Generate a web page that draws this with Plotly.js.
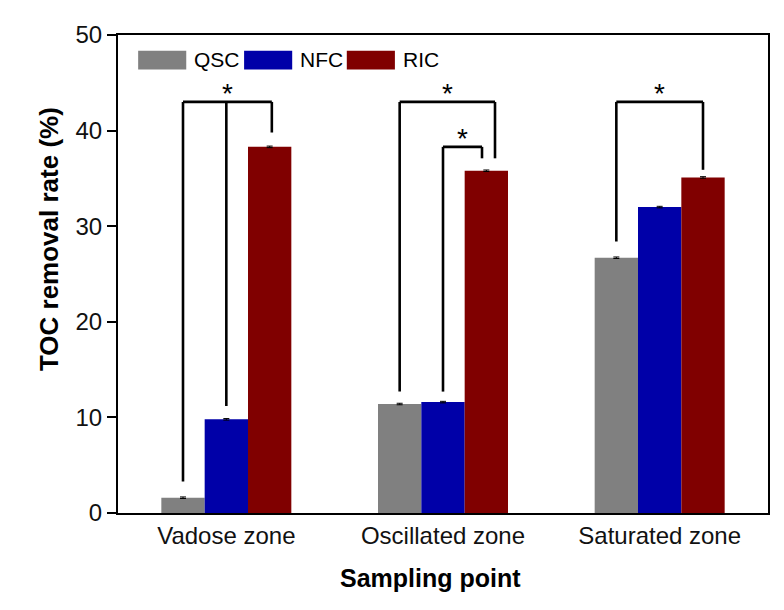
<!DOCTYPE html>
<html>
<head>
<meta charset="utf-8">
<script src="https://cdn.plot.ly/plotly-3.0.1.min.js"></script>
<style>html,body{margin:0;padding:0;background:#fff;}#chart{width:784px;height:610px;}</style>
</head>
<body>
<div id="chart"></div>
<script>
// ---- data ----
const categories = ["Vadose zone", "Oscillated zone", "Saturated zone"];
const seriesNames = ["QSC", "NFC", "RIC"];
const qsc = [1.6, 11.4, 26.7];
const nfc = [9.8, 11.6, 32.0];
const ric = [38.3, 35.8, 35.1];
const qscErr = [0.08, 0.08, 0.08];
const nfcErr = [0.08, 0.08, 0.08];
const ricErr = [0.08, 0.08, 0.08];
const colors = ["#808080", "#0000A8", "#800000"];
const yTicks = [0, 10, 20, 30, 40, 50];

// significance brackets: group index, legs (series indices), leg bottoms, top height
const brackets = [
  {group: 0, legs: [0, 1, 2], bottoms: [3.3, 11.2, 39.8], top: 43.0, nudge: [0, 0, 0.01]},
  {group: 1, legs: [0, 2], bottoms: [12.7, 37.1], top: 43.0, nudge: [0, 0.04]},
  {group: 1, legs: [1, 2], bottoms: [12.7, 37.1], top: 38.3, nudge: [0, -0.02]},
  {group: 2, legs: [0, 2], bottoms: [28.4, 35.9], top: 43.0, nudge: [0, 0]}
];

const values = [qsc, nfc, ric];
const errs = [qscErr, nfcErr, ricErr];
const barWidth = 0.2;
const FONT = "Arial, Liberation Sans, sans-serif";

const traces = seriesNames.map((name, i) => ({
  type: "bar",
  name: name,
  x: categories,
  y: values[i],
  marker: {color: colors[i], line: {width: 0}},
  error_y: {type: "data", array: errs[i], visible: true, color: "#000", thickness: 1, width: 3},
  showlegend: false,
  hoverinfo: "skip"
}));

const shapes = [];
const annotations = [];
const lineStyle = {color: "#000", width: 2.6};

brackets.forEach(b => {
  const xs = b.legs.map((s, k) => b.group + (s - 1) * barWidth + b.nudge[k]);
  xs.forEach((x, k) => {
    shapes.push({type: "line", xref: "x", yref: "y", x0: x, x1: x, y0: b.bottoms[k], y1: b.top, line: lineStyle});
  });
  shapes.push({type: "line", xref: "x", yref: "y", x0: xs[0], x1: xs[xs.length - 1], y0: b.top, y1: b.top, line: lineStyle});
  annotations.push({
    xref: "x", yref: "y", x: (xs[0] + xs[xs.length - 1]) / 2, y: b.top, yanchor: "bottom",
    yshift: -9, text: "*", showarrow: false,
    font: {family: FONT, size: 28, color: "#000"}
  });
});

// custom legend (wide swatches)
const legX = [0.031, 0.194, 0.352];
seriesNames.forEach((name, i) => {
  const x0 = legX[i];
  shapes.push({type: "rect", xref: "paper", yref: "paper", x0: x0, x1: x0 + 0.074, y0: 0.928, y1: 0.967,
    fillcolor: colors[i], line: {width: 0}});
  annotations.push({xref: "paper", yref: "paper", x: x0 + 0.083, y: 0.948, xanchor: "left", yanchor: "middle",
    text: name, showarrow: false, font: {family: FONT, size: 21, color: "#000"}});
});

// axis titles
annotations.push({xref: "paper", yref: "paper", x: 0.48, y: 0, yanchor: "middle", yshift: -65,
  text: "<b>Sampling point</b>", showarrow: false, font: {family: FONT, size: 25, color: "#000"}});
annotations.push({xref: "paper", yref: "paper", x: 0, y: 0.573, xanchor: "center", xshift: -69,
  textangle: -90, text: "<b>TOC removal rate (%)</b>", showarrow: false, font: {family: FONT, size: 26, color: "#000"}});

const layout = {
  width: 784, height: 610,
  margin: {l: 118, r: 16, t: 35, b: 97},
  paper_bgcolor: "#fff", plot_bgcolor: "#fff",
  barmode: "group", bargap: 0.4, bargroupgap: 0,
  font: {family: FONT, color: "#000"},
  xaxis: {
    type: "category", range: [-0.5, 2.5],
    showline: true, linecolor: "#000", linewidth: 2, mirror: true,
    ticks: "", showgrid: false, zeroline: false,
    tickfont: {size: 24, color: "#111"}
  },
  yaxis: {
    range: [0, 50], tickvals: yTicks, ticktext: yTicks.map(String),
    showline: true, linecolor: "#000", linewidth: 2, mirror: true,
    ticks: "outside", ticklen: 9, tickwidth: 2, tickcolor: "#000",
    showgrid: false, zeroline: false,
    tickfont: {size: 24, color: "#111"}
  },
  shapes: shapes,
  annotations: annotations
};

Plotly.newPlot("chart", traces, layout, {displayModeBar: false, staticPlot: true});
</script>
</body>
</html>
